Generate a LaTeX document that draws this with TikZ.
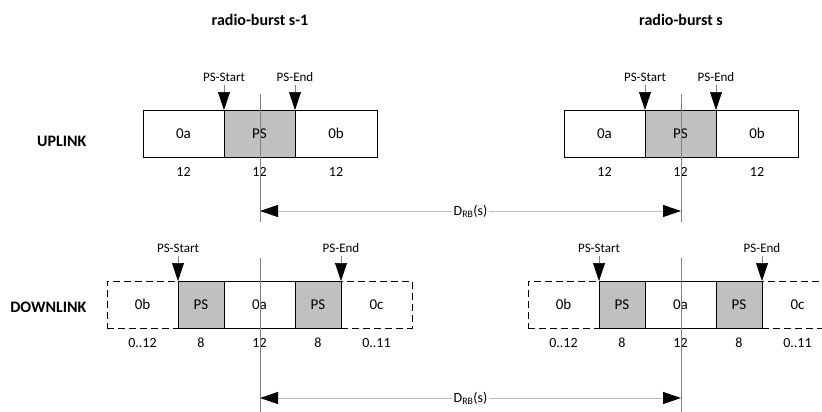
\documentclass[tikz,border=0pt]{standalone}
\usepackage{fontspec}
\setmainfont{Carlito}
\usetikzlibrary{positioning,arrows.meta}
\definecolor{cFill}{HTML}{C0C0C0}
\definecolor{cMid}{HTML}{808080}
\definecolor{cDim}{HTML}{BDBDBD}

\begin{document}
\begin{tikzpicture}[x=1pt,y=-1pt,node distance=0pt,
  seg/.style={draw,line width=1pt,minimum height=47pt,inner sep=0pt,outer sep=0pt,
              font=\fontsize{15}{17}\selectfont},
  ps/.style={seg,fill=cFill},
  opt/.style={seg,dash pattern=on 7pt off 4pt},
  num/.style={font=\fontsize{14}{16}\selectfont,inner sep=0pt},
  lbl/.style={font=\fontsize{13}{15}\selectfont,inner sep=3pt},
  ttl/.style={font=\fontsize{16}{18}\selectfont\bfseries},
  side/.style={font=\fontsize{16}{18}\selectfont\bfseries,anchor=east},
  pin/.style={draw=cMid,line width=0.6pt,-{Triangle[length=18pt,width=12pt,color=black]}},
  mid/.style={draw=cMid,line width=0.7pt},
  drb/.style={draw=cDim,line width=1pt,
              {Triangle[length=18pt,width=12pt,color=black]}-{Triangle[length=18pt,width=12pt,color=black]}},
  dlbl/.style={font=\fontsize{14}{16}\selectfont,fill=white,inner sep=2pt}]

\useasboundingbox (0,0) rectangle (822,412);
\clip (0,0) rectangle (822,412);

\node[side] (ul) at (90,141) {UPLINK};
\node[side] (dl) at (90,307) {DOWNLINK};

\foreach \b/\x/\t in {1/0/radio-burst s-1,2/421/radio-burst s}{
  \node[ttl] (t\b) at (260+\x,20) {\t};

  % uplink frame
  \node[seg,minimum width=81pt,anchor=west] (u\b-oa) at (143+\x,133.5) {0a};
  \node[ps,minimum width=71pt,right=of u\b-oa] (u\b-ps) {PS};
  \node[seg,minimum width=82pt,right=of u\b-ps] (u\b-ob) {0b};
  \node[num,below=10pt of u\b-oa] (u\b-n1) {12};
  \node[num,below=10pt of u\b-ps] (u\b-n2) {12};
  \node[num,below=10pt of u\b-ob] (u\b-n3) {12};

  % downlink frame
  \node[opt,minimum width=71pt,anchor=west] (d\b-ob) at (107+\x,304.5) {0b};
  \node[ps,minimum width=46pt,right=of d\b-ob] (d\b-ps1) {PS};
  \node[seg,minimum width=71pt,right=of d\b-ps1] (d\b-oa) {0a};
  \node[ps,minimum width=46pt,right=of d\b-oa] (d\b-ps2) {PS};
  \node[opt,minimum width=71pt,right=of d\b-ps2] (d\b-oc) {0c};
  \node[num,below=10pt of d\b-ob] (d\b-n1) {0..12};
  \node[num,below=10pt of d\b-ps1] (d\b-n2) {8};
  \node[num,below=10pt of d\b-oa] (d\b-n3) {12};
  \node[num,below=10pt of d\b-ps2] (d\b-n4) {8};
  \node[num,below=10pt of d\b-oc] (d\b-n5) {0..11};

  \node[lbl,above=25pt of u\b-oa.north east] (u\b-st) {PS-Start};
  \node[lbl,above=25pt of u\b-ps.north east] (u\b-en) {PS-End};
  \node[lbl,above=25pt of d\b-ps1.north west] (d\b-st) {PS-Start};
  \node[lbl,above=25pt of d\b-ps2.north east] (d\b-en) {PS-End};
  \draw[pin] (u\b-st) -- (u\b-oa.north east);
  \draw[pin] (u\b-en) -- (u\b-ps.north east);
  \draw[pin] (d\b-st) -- (d\b-ps1.north west);
  \draw[pin] (d\b-en) -- (d\b-ps2.north east);

  % reference lines
  \coordinate (m\b-a) at (260+\x,94);
  \coordinate (m\b-b) at (260+\x,222);
  \coordinate (m\b-c) at (260+\x,258);
  \coordinate (m\b-d) at (260+\x,412);
  \coordinate (r\b-u) at (260+\x,211);
  \coordinate (r\b-d) at (260+\x,398);
  \draw[mid] (m\b-a) -- (m\b-b);
  \draw[mid] (m\b-c) -- (m\b-d);
}

\draw[drb] (r1-u) -- node[dlbl] {D\textsubscript{RB}(s)} (r2-u);
\draw[drb] (r1-d) -- node[dlbl] {D\textsubscript{RB}(s)} (r2-d);
\end{tikzpicture}
\end{document}
